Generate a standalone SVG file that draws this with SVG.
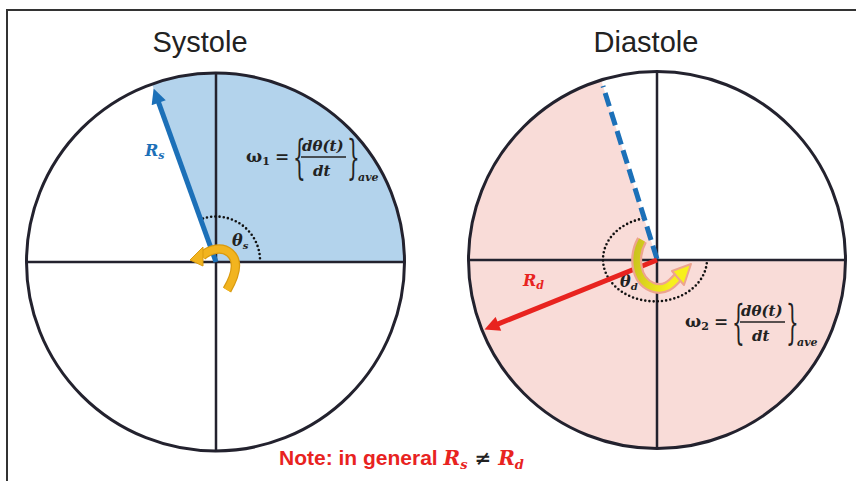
<svg xmlns="http://www.w3.org/2000/svg" width="856" height="481" viewBox="0 0 856 481">
<defs>
<style>
.title{font-family:"Liberation Sans",Arial,sans-serif;font-size:29px;fill:#222;text-anchor:middle}
.circ{fill:none;stroke:#23222e;stroke-width:3}
.axis{stroke:#23222e;stroke-width:2.5}
.m{font-family:"DejaVu Serif","Liberation Serif",serif;font-weight:bold;font-style:italic}
.f{font-family:"DejaVu Serif","Liberation Serif",serif;font-weight:bold;fill:#222}
.dots{fill:none;stroke:#111;stroke-width:2.6;stroke-linecap:round;stroke-dasharray:0 4.2}
</style>
<marker id="ahBlue" viewBox="0 0 10 10" refX="1" refY="5" markerWidth="16" markerHeight="15" markerUnits="userSpaceOnUse" orient="auto"><path d="M0,0 L10,5 L0,10 z" fill="#1c70b8"/></marker>
<marker id="ahRed" viewBox="0 0 10 10" refX="1" refY="5" markerWidth="16" markerHeight="15" markerUnits="userSpaceOnUse" orient="auto"><path d="M0,0 L10,5 L0,10 z" fill="#e8231f"/></marker>
<linearGradient id="yg" x1="0" y1="0" x2="1" y2="0.3"><stop offset="0" stop-color="#c9c21e"/><stop offset="1" stop-color="#f7f01c"/></linearGradient>
</defs>
<rect width="856" height="481" fill="#fff"/>
<path d="M7 481 V10 H856" fill="none" stroke="#333" stroke-width="2"/>

<g id="systole">
<text class="title" x="200" y="52">Systole</text>
<path d="M216 262 L152 84 A189 189 0 0 1 405 262 Z" fill="#b3d3ec"/>
<circle class="circ" cx="215.5" cy="262" r="189"/>
<line class="axis" x1="26.5" y1="262" x2="404.5" y2="262"/>
<line class="axis" x1="216" y1="73" x2="216" y2="451"/>
<path class="dots" d="M203 218.5 A44 44 0 0 1 260 262"/>
<text class="m" x="232" y="246" font-size="16" fill="#222">θ<tspan font-size="10" dy="3">s</tspan></text>
<text class="m" x="145" y="156" font-size="16" fill="#1c70b8">R<tspan font-size="11" dy="3">s</tspan></text>
</g>

<g id="diastole">
<text class="title" x="646" y="52">Diastole</text>
<path d="M657 260 L601.1 80 A188.5 188.5 0 1 0 845.5 260 Z" fill="#f9dcd8"/>
<circle class="circ" cx="657" cy="260" r="188.5"/>
<line class="axis" x1="468.5" y1="260" x2="845.5" y2="260"/>
<line class="axis" x1="657" y1="71.5" x2="657" y2="448.5"/>
<path class="dots" d="M643 218.5 A52 42 0 1 0 707 260"/>
<text class="m" x="620" y="287" font-size="16" fill="#222">θ<tspan font-size="10" dy="3">d</tspan></text>
<text class="m" x="523" y="286" font-size="16" fill="#e8231f">R<tspan font-size="11" dy="3">d</tspan></text>
</g>

<g id="formula1" transform="translate(246,162)">
<text class="f" x="0" y="0" font-size="17">ω<tspan font-size="11" dy="3">1</tspan></text>
<text class="f" x="29" y="0" font-size="17">=</text>
<text class="f" x="0" y="0" font-size="20" transform="translate(47,11) scale(1,2.3)" style="font-weight:normal">{</text>
<text class="m" x="56" y="-11" font-size="15" fill="#222">dθ(t)</text>
<line x1="55" y1="-5" x2="100" y2="-5" stroke="#222" stroke-width="1.4"/>
<text class="m" x="67" y="14" font-size="15" fill="#222">dt</text>
<text class="f" x="0" y="0" font-size="20" transform="translate(101,11) scale(1,2.3)" style="font-weight:normal">}</text>
<text class="m" x="112" y="19" font-size="11" fill="#222">ave</text>
</g>

<g id="formula2" transform="translate(685,327)">
<text class="f" x="0" y="0" font-size="17">ω<tspan font-size="11" dy="3">2</tspan></text>
<text class="f" x="29" y="0" font-size="17">=</text>
<text class="f" x="0" y="0" font-size="20" transform="translate(47,11) scale(1,2.3)" style="font-weight:normal">{</text>
<text class="m" x="56" y="-11" font-size="15" fill="#222">dθ(t)</text>
<line x1="55" y1="-5" x2="100" y2="-5" stroke="#222" stroke-width="1.4"/>
<text class="m" x="67" y="14" font-size="15" fill="#222">dt</text>
<text class="f" x="0" y="0" font-size="20" transform="translate(101,11) scale(1,2.3)" style="font-weight:normal">}</text>
<text class="m" x="112" y="19" font-size="11" fill="#222">ave</text>
</g>

<g id="connectors">
<line x1="216" y1="262" x2="158.2" y2="101.3" stroke="#1c70b8" stroke-width="5" marker-end="url(#ahBlue)"/>
<path d="M227 290 C234 278 240 262 230 253 C222 246 210 249 202 256" fill="none" stroke="#d99a10" stroke-width="9.5"/>
<path d="M227 290 C234 278 240 262 230 253 C222 246 210 249 202 256" fill="none" stroke="#f2b41f" stroke-width="7"/>
<polygon points="190,260 203,247 203,266" fill="#f2b41f" stroke="#d99a10" stroke-width="1"/>

<line x1="657" y1="259" x2="603" y2="86" stroke="#1c70b8" stroke-width="5" stroke-dasharray="14 6"/>
<line x1="657" y1="260" x2="497" y2="324.4" stroke="#e8231f" stroke-width="5" marker-end="url(#ahRed)"/>
<path d="M642 240 C633 256 635 280 652 287 C664 292 672 284 678 277" fill="none" stroke="#eda48e" stroke-width="11"/>
<path d="M642 240 C633 256 635 280 652 287 C664 292 672 284 678 277" fill="none" stroke="url(#yg)" stroke-width="6.5"/>
<polygon points="691,264 672,271 684,285" fill="#f7f01c" stroke="#eda48e" stroke-width="2" stroke-linejoin="round"/>
</g>

<text x="279" y="465" font-family="Liberation Sans,Arial,sans-serif" font-weight="bold" font-size="21" fill="#e8231f">Note: in general <tspan class="m" font-size="20">R</tspan><tspan class="m" font-size="13" dy="4">s</tspan><tspan dy="-4" class="f" fill="#e8231f" font-size="20"> ≠ </tspan><tspan class="m" font-size="20">R</tspan><tspan class="m" font-size="13" dy="4">d</tspan></text>
</svg>
